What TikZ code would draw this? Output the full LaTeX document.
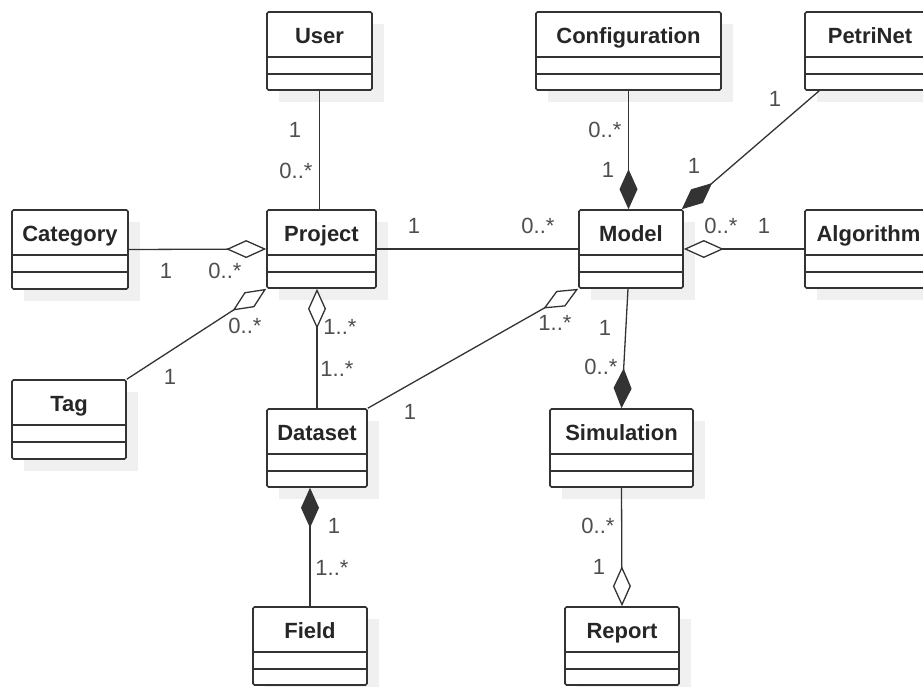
\documentclass[tikz,border=0pt]{standalone}
\usepackage{fontspec}
\setmainfont{Liberation Sans}
\usetikzlibrary{arrows.meta,calc}
\definecolor{ink}{HTML}{333333}
\definecolor{lbl}{HTML}{4F4F4F}
\definecolor{shadowgray}{HTML}{F0F0F0}
\tikzset{
  classbox/.style={draw=ink, line width=1.6pt, fill=white, rounded corners=1.5pt, inner sep=0pt},
  ctitle/.style={font=\fontsize{22}{26}\selectfont\bfseries, text=black!85, inner sep=0pt, anchor=base},
  mult/.style={font=\fontsize{22}{26}\selectfont, text=lbl, anchor=base, inner sep=0pt},
  assoc/.style={draw=ink, line width=1.3pt},
  aggr/.style={assoc, -{Diamond[open, fill=white, length=40pt, width=18pt]}},
  comp/.style={assoc, -{Diamond[length=40pt, width=18pt]}},
}
\newcommand{\umlclass}[6]{%
  \fill[shadowgray] (#2+12,#3+12) rectangle (#4+12,#5+12);
  \node[classbox, minimum width={#4-#2}, minimum height={#5-#3}] (#1) at ({(#2+#4)/2},{(#3+#5)/2}) {};
  \draw[ink, line width=1.6pt] (#2,#3+45) -- (#4,#3+45) (#2,#3+62) -- (#4,#3+62);
  \node[ctitle] at ({(#2+#4)/2},#3+31) {#6};
}
\begin{document}
\begin{tikzpicture}[x=1pt,y=-1pt]
\clip (0,0) rectangle (923,686);
\fill[white] (0,0) rectangle (923,686);
% classes
\umlclass{user}{267}{12}{372}{90}{User}
\umlclass{configuration}{536}{12}{721}{90}{Configuration}
\umlclass{petrinet}{805}{12}{935}{90}{PetriNet}
\umlclass{category}{12}{210}{128}{289}{Category}
\umlclass{project}{267}{210}{376}{288}{Project}
\umlclass{model}{579}{210}{683}{288}{Model}
\umlclass{algorithm}{805}{210}{932}{288}{Algorithm}
\umlclass{tag}{12}{380}{126}{459}{Tag}
\umlclass{dataset}{267}{409}{367}{487}{Dataset}
\umlclass{simulation}{550}{409}{693}{487}{Simulation}
\umlclass{field}{253}{607}{367}{685}{Field}
\umlclass{report}{565}{607}{679}{685}{Report}
% connectors
\draw[assoc] (user.south) -- (user.south |- project.north);
\draw[aggr] (category.east) -- (project.west);
\draw[assoc] (project.east) -- (model.west);
\draw[aggr] (tag.north east) -- (project.south west);
\draw[aggr] (dataset.north) -- (dataset.north |- project.south);
\draw[aggr] (dataset.north east) -- (model.south west);
\draw[comp] (configuration.south) -- (configuration.south |- model.north);
\draw[comp] ([xshift=15pt]petrinet.south west) -- ([xshift=-2pt]model.north east);
\draw[aggr] (algorithm.west) -- (model.east);
\draw[comp] ([xshift=-3pt]model.south) -- (simulation.north);
\draw[aggr] (simulation.south) -- (report.north);
\draw[comp] (field.north) -- (field.north |- dataset.south);
% multiplicities
\node[mult] (m1) at (295,137) {1};
\node[mult] (m2) at (296,178) {0..*};
\node[mult] (m3) at (166,278) {1};
\node[mult] (m4) at (225,278) {0..*};
\node[mult] (m5) at (414,233) {1};
\node[mult] (m6) at (538,233) {0..*};
\node[mult] (m7) at (605,137) {0..*};
\node[mult] (m8) at (608,177) {1};
\node[mult] (m9) at (775,106) {1};
\node[mult] (m10) at (694,173) {1};
\node[mult] (m11) at (721,233) {0..*};
\node[mult] (m12) at (764,233) {1};
\node[mult] (m13) at (245,333) {0..*};
\node[mult] (m14) at (170,384) {1};
\node[mult] (m15) at (340,334) {1..*};
\node[mult] (m16) at (337,376) {1..*};
\node[mult] (m17) at (410,419) {1};
\node[mult] (m18) at (555,330) {1..*};
\node[mult] (m19) at (605,335) {1};
\node[mult] (m20) at (601,374) {0..*};
\node[mult] (m21) at (334,533) {1};
\node[mult] (m22) at (332,575) {1..*};
\node[mult] (m23) at (598,533) {0..*};
\node[mult] (m24) at (599,574) {1};
\end{tikzpicture}
\end{document}
